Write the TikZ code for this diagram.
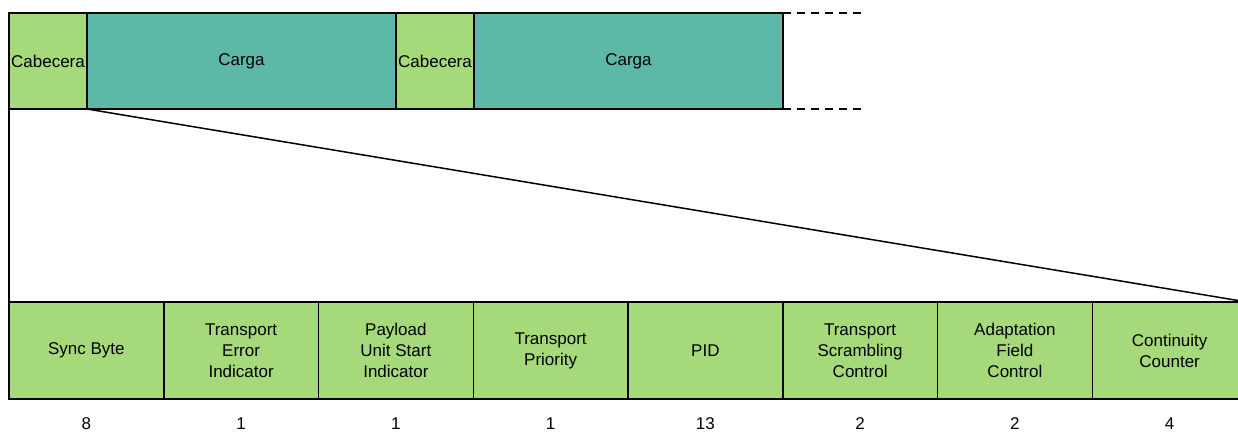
\documentclass[tikz,border=0pt]{standalone}
\usepackage{fontspec}
\setmainfont{Liberation Sans}
\definecolor{hdr}{RGB}{165,217,122}
\definecolor{load}{RGB}{92,185,167}
\begin{document}
\begin{tikzpicture}[x=1pt,y=-1pt,
  box/.style={draw=black, line width=1.5pt, outer sep=0pt, minimum height=96pt, inner sep=0pt, font=\fontsize{17}{21}\selectfont, align=center, anchor=north west},
  hbox/.style={box, fill=hdr, minimum width=78pt},
  lbox/.style={box, fill=load, minimum width=309pt},
  fbox/.style={box, fill=hdr, minimum width=154.75pt, minimum height=97pt},
  num/.style={font=\fontsize{17}{21}\selectfont, inner sep=1pt},
  link/.style={line width=1.5pt},
  more/.style={line width=1.5pt, dash pattern=on 8pt off 6pt}]
\useasboundingbox (0,0) rectangle (1238,432);
\clip (0,0) rectangle (1238,432);
% top row
\node[hbox] (h1) at (9,13) {Cabecera};
\node[lbox] (c1) at (h1.north east) {Carga};
\node[hbox] (h2) at (c1.north east) {Cabecera};
\node[lbox] (c2) at (h2.north east) {Carga};
\coordinate (d1) at (862,13);
\coordinate (d2) at (862,109);
\draw[more] (c2.north east) -- (d1);
\draw[more] (c2.south east) -- (d2);
% bottom row
\node[fbox] (f1) at (9,302) {Sync Byte};
\node[fbox] (f2) at (f1.north east) {Transport\\Error\\Indicator};
\node[fbox] (f3) at (f2.north east) {Payload\\Unit Start\\Indicator};
\node[fbox] (f4) at (f3.north east) {Transport\\Priority};
\node[fbox] (f5) at (f4.north east) {PID};
\node[fbox] (f6) at (f5.north east) {Transport\\Scrambling\\Control};
\node[fbox] (f7) at (f6.north east) {Adaptation\\Field\\Control};
\node[fbox] (f8) at (f7.north east) {Continuity\\Counter};
% zoom lines
\draw[link] (h1.south west) -- (f1.north west);
\draw[link] (h1.south east) -- (f8.north east);
% bit counts
\foreach \n/\v in {1/8,2/1,3/1,4/1,5/13,6/2,7/2,8/4}
  \node[num] (n\n) at ([yshift=-25pt]f\n.south) {\v};
\end{tikzpicture}
\end{document}
